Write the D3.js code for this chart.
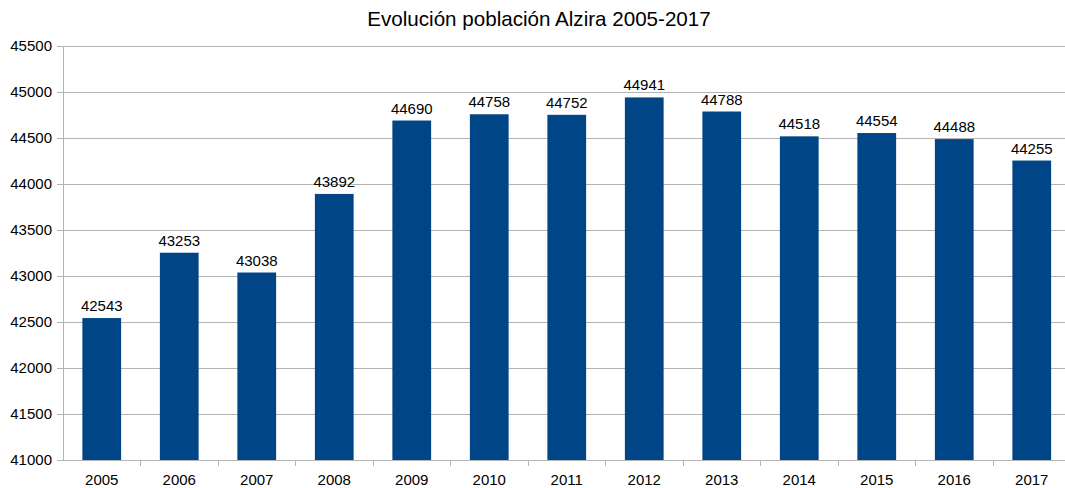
<!DOCTYPE html>
<html><head><meta charset="utf-8">
<script src="https://cdn.jsdelivr.net/npm/d3@7"></script>
<style>body{margin:0;background:#fff}text{font-family:"Liberation Sans",Arial,sans-serif;fill:#000}</style>
</head><body><svg id="c" width="1065" height="488"></svg>
<script>
const years = ["2005","2006","2007","2008","2009","2010","2011","2012","2013","2014","2015","2016","2017"];
const population = [42543,43253,43038,43892,44690,44758,44752,44941,44788,44518,44554,44488,44255];
const yTicks = [41000,41500,42000,42500,43000,43500,44000,44500,45000,45500];
const title = "Evolución población Alzira 2005-2017";

(function(){
const svg = d3.select("#c");
const pL = 63, pR = 1070.5, pT = 46, pB = 460;
const x = d3.scaleBand().domain(years).range([pL, pR]).paddingInner(0.5).paddingOuter(0.25);
const xb = d3.scaleBand().domain(years).range([pL, pR]);
const y = d3.scaleLinear().domain([41000,45500]).range([pB, pT]);

svg.append("g").selectAll("line").data(yTicks).join("line")
  .attr("x1", pL-6).attr("x2", pR).attr("y1", d=>y(d)).attr("y2", d=>y(d))
  .attr("stroke", "#b3b3b3").attr("stroke-width", 1).attr("shape-rendering","crispEdges");
svg.append("line").attr("x1", pL).attr("x2", pL).attr("y1", pT).attr("y2", pB)
  .attr("stroke", "#b3b3b3").attr("shape-rendering","crispEdges");
svg.append("g").selectAll("line").data(years.slice(1)).join("line")
  .attr("x1", d=>xb(d)).attr("x2", d=>xb(d)).attr("y1", pB).attr("y2", pB+6)
  .attr("stroke", "#b3b3b3").attr("shape-rendering","crispEdges");
svg.append("g").selectAll("text").data(yTicks).join("text")
  .attr("x", pL-11).attr("y", d=>y(d)).attr("dy","0.35em").attr("text-anchor","end")
  .attr("font-size", 15).text(d=>d);
svg.append("g").selectAll("rect").data(years).join("rect")
  .attr("x", d=>x(d)).attr("width", x.bandwidth())
  .attr("y", (d,i)=>y(population[i])).attr("height", (d,i)=>pB-y(population[i]))
  .attr("fill", "#004586");
svg.append("g").selectAll("text").data(years).join("text")
  .attr("x", d=>x(d)+x.bandwidth()/2).attr("y", (d,i)=>y(population[i])-7)
  .attr("text-anchor","middle").attr("font-size",15).text((d,i)=>population[i]);
svg.append("g").selectAll("text").data(years).join("text")
  .attr("x", d=>xb(d)+xb.bandwidth()/2).attr("y", pB+25)
  .attr("text-anchor","middle").attr("font-size",15).text(d=>d);
svg.append("text").attr("x", 539).attr("y", 26).attr("text-anchor","middle")
  .attr("font-size", 20.6).text(title);
})();
</script></body></html>
